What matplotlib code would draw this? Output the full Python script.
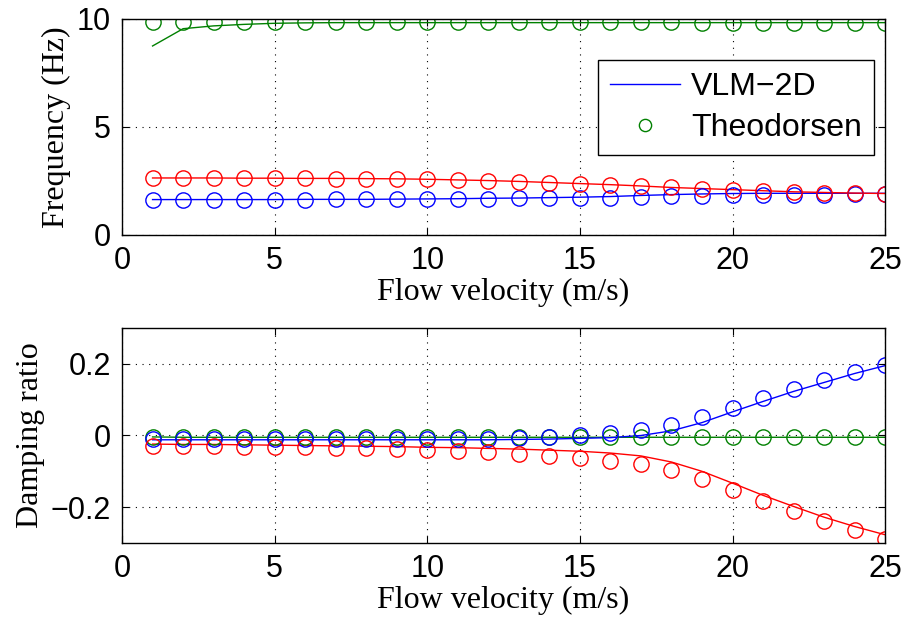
import matplotlib
matplotlib.use("Agg")
import matplotlib.pyplot as plt

# flow velocity (m/s)
v = list(range(1, 26))

# frequency (Hz) - VLM-2D lines
freq_vlm_g = [8.75, 9.55, 9.68, 9.75, 9.8, 9.82, 9.83, 9.83, 9.83, 9.83, 9.83, 9.83, 9.83,
              9.83, 9.83, 9.83, 9.83, 9.83, 9.83, 9.83, 9.83, 9.83, 9.83, 9.83, 9.83]
freq_vlm_r = [2.64, 2.64, 2.64, 2.63, 2.63, 2.62, 2.62, 2.61, 2.6, 2.58, 2.55, 2.52, 2.48,
              2.43, 2.38, 2.33, 2.27, 2.2, 2.15, 2.1, 2.05, 2.0, 1.97, 1.94, 1.92]
freq_vlm_b = [1.64, 1.64, 1.64, 1.64, 1.64, 1.65, 1.65, 1.65, 1.66, 1.67, 1.68, 1.7, 1.71,
              1.73, 1.75, 1.78, 1.83, 1.87, 1.9, 1.92, 1.93, 1.93, 1.93, 1.93, 1.93]
# frequency (Hz) - Theodorsen circles
freq_th_g = [9.86, 9.86, 9.86, 9.86, 9.85, 9.85, 9.85, 9.85, 9.85, 9.85, 9.85, 9.85, 9.85,
             9.84, 9.84, 9.84, 9.84, 9.84, 9.83, 9.83, 9.83, 9.82, 9.82, 9.82, 9.82]
freq_th_r = [2.64, 2.64, 2.64, 2.63, 2.63, 2.62, 2.61, 2.6, 2.59, 2.57, 2.53, 2.49, 2.45,
             2.41, 2.37, 2.32, 2.26, 2.2, 2.14, 2.09, 2.04, 2.0, 1.96, 1.93, 1.92]
freq_th_b = [1.64, 1.64, 1.64, 1.64, 1.64, 1.64, 1.65, 1.65, 1.65, 1.66, 1.67, 1.68, 1.69,
             1.7, 1.71, 1.72, 1.75, 1.79, 1.82, 1.84, 1.86, 1.87, 1.87, 1.88, 1.9]

# damping ratio - VLM-2D lines
damp_vlm_g = [-0.004, -0.005, -0.005, -0.005, -0.005, -0.005, -0.005, -0.005, -0.005, -0.005,
              -0.005, -0.005, -0.005, -0.005, -0.005, -0.005, -0.005, -0.005, -0.005, -0.005,
              -0.005, -0.005, -0.005, -0.005, -0.005]
damp_vlm_b = [-0.012, -0.012, -0.012, -0.012, -0.012, -0.012, -0.012, -0.012, -0.012, -0.012,
              -0.012, -0.012, -0.011, -0.01, -0.008, -0.006, 0.0, 0.013, 0.036, 0.066,
              0.095, 0.123, 0.148, 0.173, 0.195]
damp_vlm_r = [-0.024, -0.025, -0.025, -0.026, -0.027, -0.028, -0.029, -0.03, -0.031, -0.033,
              -0.034, -0.036, -0.038, -0.041, -0.044, -0.049, -0.057, -0.074, -0.1, -0.133,
              -0.167, -0.198, -0.228, -0.254, -0.277]
# damping ratio - Theodorsen circles
damp_th_g = [-0.005] * 25
damp_th_b = [-0.01, -0.01, -0.01, -0.01, -0.011, -0.011, -0.011, -0.011, -0.01, -0.01,
             -0.01, -0.009, -0.007, -0.004, 0.0, 0.008, 0.015, 0.03, 0.052, 0.078,
             0.105, 0.13, 0.155, 0.178, 0.197]
damp_th_r = [-0.028, -0.029, -0.03, -0.031, -0.032, -0.033, -0.035, -0.036, -0.038, -0.041,
             -0.044, -0.047, -0.051, -0.056, -0.062, -0.07, -0.08, -0.097, -0.121, -0.152,
             -0.183, -0.21, -0.238, -0.263, -0.29]

blue = (0, 0, 1)
green = (0, 0.5, 0)
red = (1, 0, 0)

tick_font = "Liberation Sans"
label_font = "Liberation Serif"

fig = plt.figure(figsize=(9.06, 6.24), dpi=100)
ax1 = fig.add_axes([0.1347, 0.6234, 0.8423, 0.3462])
ax2 = fig.add_axes([0.1347, 0.1298, 0.8423, 0.3446])


def style(ax, ylabel):
    ax.set_xlim(0, 25)
    ax.set_xticks([0, 5, 10, 15, 20, 25])
    ax.grid(True, color="black", linestyle=(0, (1, 5)), linewidth=0.8)
    ax.tick_params(direction="in", top=True, right=True, length=5, width=0.8,
                   labelsize=22)
    ax.tick_params(axis="x", pad=8)
    ax.tick_params(axis="y", pad=8)
    for lab in ax.get_xticklabels() + ax.get_yticklabels():
        lab.set_fontfamily(tick_font)
    for s in ax.spines.values():
        s.set_linewidth(1.0)
    ax.set_xlabel("Flow velocity (m/s)", fontsize=23, family=label_font, labelpad=1)
    ax.set_ylabel(ylabel, fontsize=23, family=label_font, labelpad=4)


ms = 11
# top: frequency
l_vlm, = ax1.plot(v, freq_vlm_b, color=blue, lw=1.0)
ax1.plot(v, freq_vlm_r, color=red, lw=1.0)
ax1.plot(v, freq_vlm_g, color=green, lw=1.0)
ax1.plot(v, freq_th_b, "o", color=blue, mfc="none", ms=ms, mew=1.0)
ax1.plot(v, freq_th_r, "o", color=red, mfc="none", ms=ms, mew=1.0)
l_th, = ax1.plot(v, freq_th_g, "o", color=green, mfc="none", ms=ms, mew=1.0)
ax1.set_ylim(0, 10)
ax1.set_yticks([0, 5, 10])
style(ax1, "Frequency (Hz)")

leg = ax1.legend([l_vlm, l_th], ["VLM\u22122D", "Theodorsen"], loc="upper right",
                 bbox_to_anchor=(0.9856, 0.81), borderaxespad=0, fancybox=False,
                 edgecolor="black", framealpha=1, handlelength=2.2, handletextpad=0.35,
                 labelspacing=0.35, borderpad=0.38, markerscale=0.8,
                 prop={"family": tick_font, "size": 23})
leg.get_frame().set_linewidth(1.0)

# bottom: damping ratio
ax2.plot(v, damp_vlm_g, color=green, lw=1.0)
ax2.plot(v, damp_vlm_b, color=blue, lw=1.0)
ax2.plot(v, damp_vlm_r, color=red, lw=1.0)
ax2.plot(v, damp_th_g, "o", color=green, mfc="none", ms=ms, mew=1.0)
ax2.plot(v, damp_th_b, "o", color=blue, mfc="none", ms=ms, mew=1.0)
ax2.plot(v, damp_th_r, "o", color=red, mfc="none", ms=ms, mew=1.0)
ax2.set_ylim(-0.3, 0.3)
ax2.set_yticks([-0.2, 0, 0.2])
ax2.set_yticklabels(["\u22120.2", "0", "0.2"])
style(ax2, "Damping ratio")

fig.savefig("out.png", dpi=100)
